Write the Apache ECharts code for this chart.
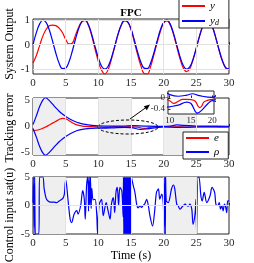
<!DOCTYPE html>
<html><head><meta charset="utf-8">
<script src="https://cdn.jsdelivr.net/npm/echarts@6/dist/echarts.min.js"></script>
<style>html,body{margin:0;padding:0;background:#fff}#c{width:254px;height:263px}</style>
</head><body><div id="c"></div><script>
// ---- data ----
const timeY = [0,0.5,1,1.5,2,2.5,3,3.5,4,4.5,5,5.5,6,6.5,7,7.5,8,8.5,9,9.5,10,10.5,11,11.5,12,12.5,13,13.5,14,14.5,15,15.5,16,16.5,17,17.5,18,18.5,19,19.5,20,20.5,21,21.5,22,22.5,23,23.5,24,24.5,25,25.5,26,26.5,27,27.5,28,28.5,29,29.5,30];
const yDesired = [0,0.48,0.84,1.00,0.91,0.60,0.14,-0.35,-0.76,-0.98,-0.96,-0.71,-0.28,0.22,0.66,0.94,0.99,0.80,0.41,-0.08,-0.54,-0.88,-1.00,-0.88,-0.54,-0.07,0.42,0.80,0.99,0.93,0.65,0.20,-0.29,-0.71,-0.96,-0.98,-0.75,-0.34,0.15,0.61,0.91,1.00,0.84,0.47,-0.01,-0.49,-0.85,-1.00,-0.91,-0.59,-0.13,0.36,0.76,0.98,0.96,0.70,0.27,-0.23,-0.66,-0.94,-0.99];
const yOutput = [-0.75,-0.45,-0.05,0.35,0.62,0.77,0.80,0.78,0.68,0.50,0.22,0.03,0.06,0.38,0.72,0.95,0.99,0.78,0.35,-0.18,-0.68,-1.05,-1.20,-1.02,-0.60,-0.10,0.40,0.78,0.97,0.92,0.62,0.12,-0.40,-0.85,-1.18,-1.20,-0.90,-0.42,0.08,0.55,0.88,0.97,0.82,0.42,-0.08,-0.58,-0.95,-1.10,-0.98,-0.62,-0.14,0.36,0.76,0.98,0.96,0.70,0.25,-0.25,-0.68,-0.96,-1.03];

const eTime = [0,0.5,1,1.5,2,2.5,3,3.5,4,4.5,5,5.5,6,6.5,7,7.5,8,9,10,11,12,13,14,15,16,17,17.5,18,19,20,21,22,23,23.6,24.5,26,27,28,29,30];
const eVal  = [-0.78,-0.72,-0.58,-0.35,-0.05,0.3,0.65,1.0,1.35,1.58,1.5,1.15,0.72,0.42,0.22,0.1,0.02,-0.03,-0.1,-0.2,-0.12,-0.05,-0.05,-0.06,-0.12,-0.35,-0.3,-0.15,-0.08,-0.05,-0.05,-0.05,-0.12,-0.15,-0.08,-0.05,-0.05,-0.05,-0.1,-0.05];
const rhoUpTime = [0,0.5,1,1.5,1.9,2.5,3,3.5,4,4.5,5,5.5,6,6.5,7,8,9,10,12,14,15.3,17,20,21,22,23,25,27,30];
const rhoUp     = [0.4,2.0,3.8,5.1,5.55,5.0,4.3,3.6,2.95,2.4,1.95,1.55,1.2,0.92,0.7,0.4,0.22,0.12,0.06,0.1,0.15,0.08,0.02,0.1,0.3,0.2,0.1,0.06,0.05];
const rhoLowTime = [0,0.5,1,1.5,1.9,2.5,3,3.5,4,4.5,5,5.5,6,6.5,7,8,9,10,12,14,15,16.5,17.5,19,20,22,25,30];
const rhoLow     = [-0.4,-2.0,-3.8,-5.1,-5.55,-5.0,-4.3,-3.6,-2.95,-2.4,-1.95,-1.55,-1.2,-0.92,-0.7,-0.45,-0.35,-0.32,-0.26,-0.15,-0.2,-0.55,-0.45,-0.2,-0.1,-0.15,-0.1,-0.06];

const uTime = [0,0.05,0.15,0.25,0.35,0.45,0.9,1.0,1.5,1.7,2.0,2.3,2.7,3.2,3.6,4.0,4.3,4.6,4.8,5.0,5.15,5.4,5.7,5.9,6.3,6.7,6.9,7.3,7.6,7.85,8.0,8.2,8.4,8.5,8.6,8.7,8.8,8.9,9.0,9.2,9.5,9.75,9.9,10.0,10.1,10.5,10.75,11.2,11.5,11.8,12.0,12.3,12.5,12.7,12.9,13.1,13.3,13.6,13.8,13.85,13.9,13.95,14.0,14.05,14.1,14.15,14.2,14.25,14.3,14.35,14.4,14.5,14.55,14.6,14.7,14.75,14.85,14.9,15.0,15.05,15.1,15.35,15.6,15.9,16.1,16.4,16.6,16.9,17.1,17.4,17.65,17.9,18.3,18.6,18.9,19.2,19.4,19.7,19.95,20.05,20.15,20.25,20.3,20.4,20.7,21.2,21.5,21.7,22.0,22.2,22.5,22.75,23.0,23.3,23.5,23.8,24.0,24.3,24.5,24.8,24.95,25.05,25.15,25.25,25.4,25.7,25.9,26.2,26.6,27.1,27.4,27.8,28.0,28.3,28.5,28.7,28.9,29.1,29.3,29.5,29.65,29.8,30];
const uVal  = [0.5,5,-5,5,-5,-5,-5,5,5,3,1.3,0.8,0.6,0.6,0.5,0.8,1.0,1.3,2.0,4.5,3.5,0.5,-2.5,-3.0,-1.5,-0.9,-1.5,0,2.6,1.1,-2.4,3.5,5,-1,5,0,5,-0.5,3,1,1.1,-1.5,-5,-5,0,1.1,-1.8,0.5,-0.95,-2.4,0.2,1.4,-1.25,2.3,3.2,0,3.2,2.5,-2,5,-5,5,-5,5,-5,5,-5,5,-5,5,-5,5,-5,5,-5,5,-5,5,-5,5,5,3.5,2.3,0,-0.4,0,-0.35,0.06,0.25,1.1,0,-1.8,-3.6,-1.2,2.3,2.9,1.1,2.0,0.2,-5,5,-5,5,0.8,0.5,2.9,3.6,2.9,0.2,0,-0.65,-0.35,0,0.25,0,-0.1,0.25,-0.65,-3.3,-1.5,1.1,-5,-5,5,5,1.7,0.8,2.3,0.5,1.7,3.2,2.3,0.2,0,0.5,-0.65,0,-0.95,0.25,-0.35,-1.25,0.8,0.8];

const xTicks = [0,5,10,15,20,25,30];
const yTicks1 = [-1,0,1];
const yTicks2 = [-5,0,5];
const yTicks3 = [-5,0,5];
const insetXTicks = [10,15,20];
const insetYTicks = [-0.4,0];
const shadeBands = [[0,5],[10,15],[20,25]];
const insetBands = [[10,15]];

// ---- chart ----
const serif = '"Liberation Serif","DejaVu Serif",serif';
const axisCol = '#262626';
const gridCol = '#e2e2e2';
const pairs = (xs, ys) => xs.map((x, i) => [x, ys[i]]);

function xAx(gi, min, max, labelSize, ticks) {
  return {
    gridIndex: gi, type: 'value', min: min, max: max,
    axisLabel: {customValues: ticks, fontFamily: serif, fontSize: labelSize, color: axisCol, margin: gi === 3 ? 2 : 4},
    axisTick: {customValues: ticks, inside: true, length: 2.5, lineStyle: {color: axisCol}},
    axisLine: {show: false},
    splitLine: {show: false}
  };
}
function yAx(gi, min, max, ticks, labelSize) {
  return {
    gridIndex: gi, type: 'value', min: min, max: max,
    axisLabel: {customValues: ticks, fontFamily: serif, fontSize: labelSize, color: axisCol, margin: 3},
    axisTick: {customValues: ticks, inside: true, length: 2.5, lineStyle: {color: axisCol}},
    axisLine: {show: false},
    splitLine: {show: false}
  };
}
function guide(gi, hTicks, vTicks, bands, z) {
  const lines = hTicks.map(v => ({yAxis: v})).concat(vTicks.map(v => ({xAxis: v})));
  return {
    type: 'line', xAxisIndex: gi, yAxisIndex: gi, data: [], z: z, silent: true,
    markLine: {silent: true, symbol: ['none', 'none'], label: {show: false},
      lineStyle: {color: gridCol, type: 'solid', width: 1}, data: lines, animation: false},
    markArea: {silent: true, itemStyle: {color: '#efefef'},
      data: bands.map(b => [{xAxis: b[0]}, {xAxis: b[1]}])}
  };
}
function ln(name, gi, data, color, smooth, z) {
  return {type: 'line', name: name, xAxisIndex: gi, yAxisIndex: gi, data: data,
    showSymbol: false, symbol: 'none', smooth: smooth, clip: true, z: z || 3,
    lineStyle: {color: color, width: 1.2}, itemStyle: {color: color}};
}

const inner = [5,10,15,20,25];
const option = {
  animation: false,
  grid: [
    {left: 33, top: 19, width: 196, height: 55, show: true, borderColor: axisCol, borderWidth: 1},
    {left: 33, top: 98, width: 196, height: 57, show: true, borderColor: axisCol, borderWidth: 1},
    {left: 33, top: 177, width: 196, height: 57, show: true, borderColor: axisCol, borderWidth: 1},
    {left: 168, top: 91, width: 46, height: 23, show: true, borderColor: axisCol, borderWidth: 1, backgroundColor: '#fff', z: 8}
  ],
  xAxis: [
    xAx(0, 0, 30, 11, xTicks), xAx(1, 0, 30, 11, xTicks), xAx(2, 0, 30, 11, xTicks),
    Object.assign(xAx(3, 9.6, 20.4, 9, insetXTicks), {z: 9})
  ],
  yAxis: [
    yAx(0, -1.2, 1.05, yTicks1, 11), yAx(1, -5.5, 5.5, yTicks2, 11), yAx(2, -5, 5, yTicks3, 11),
    Object.assign(yAx(3, -0.58, 0.25, insetYTicks, 9), {z: 9})
  ],
  legend: [
    {data: ['y', 'yd'], orient: 'vertical', left: 179, top: -1, itemWidth: 23, itemHeight: 2, icon: 'rect',
     itemGap: 3, padding: [1, 10, 1, 3], borderColor: axisCol, borderWidth: 1, backgroundColor: '#fff', z: 12,
     formatter: n => n === 'yd' ? '{i|y}{s|d}' : '{i|y}',
     textStyle: {fontFamily: serif, fontSize: 11, lineHeight: 12, color: '#000',
       rich: {i: {fontFamily: serif, fontStyle: 'italic', fontSize: 11}, s: {fontFamily: serif, fontStyle: 'italic', fontSize: 8, verticalAlign: 'bottom', padding: [5, 0, 0, 0]}}}},
    {data: ['e', 'ρ'], orient: 'vertical', left: 183, top: 132, itemWidth: 23, itemHeight: 2, icon: 'rect',
     itemGap: 2, padding: [0, 9, 1, 3], borderColor: axisCol, borderWidth: 1, backgroundColor: '#fff', z: 12,
     textStyle: {fontFamily: serif, fontStyle: 'italic', fontSize: 11, lineHeight: 12, color: '#000'}}
  ],
  series: [
    guide(0, yTicks1, inner, [], 1),
    guide(1, [], inner, shadeBands, 1),
    guide(2, [0], inner, shadeBands, 1),
    Object.assign(guide(3, [], [], insetBands, 9), {}),
    ln('y', 0, pairs(timeY, yOutput), '#ff0000', 0.4),
    ln('yd', 0, pairs(timeY, yDesired), '#0000ff', 0.4),
    ln('e', 1, pairs(eTime, eVal), '#ff0000', 0.4),
    ln('ρ', 1, pairs(rhoUpTime, rhoUp), '#0000ff', 0.4),
    ln('ρ', 1, pairs(rhoLowTime, rhoLow), '#0000ff', 0.4),
    ln('u', 2, pairs(uTime, uVal), '#0000ff', 0.3),
    ln('ei', 3, pairs(eTime, eVal), '#ff0000', 0.4, 10),
    ln('ρi', 3, pairs(rhoUpTime, rhoUp), '#0000ff', 0.4, 10),
    ln('ρi2', 3, pairs(rhoLowTime, rhoLow), '#0000ff', 0.4, 10)
  ],
  graphic: [
    {type: 'text', x: 131, y: 13, z: 20, style: {text: 'FPC', font: 'bold 11px "Liberation Serif"', align: 'center', verticalAlign: 'middle', fill: '#000'}},
    {type: 'text', x: 10, y: 44, rotation: Math.PI / 2, z: 20, style: {text: 'System Output', font: '12px "Liberation Serif"', align: 'center', verticalAlign: 'middle', fill: '#000'}},
    {type: 'text', x: 10, y: 128, rotation: Math.PI / 2, z: 20, style: {text: 'Tracking error', font: '12px "Liberation Serif"', align: 'center', verticalAlign: 'middle', fill: '#000'}},
    {type: 'text', x: 10, y: 215, rotation: Math.PI / 2, z: 20, style: {text: 'Control input sat(u)', font: '12px "Liberation Serif"', align: 'center', verticalAlign: 'middle', fill: '#000'}},
    {type: 'text', x: 131, y: 256, z: 20, style: {text: 'Time (s)', font: '12px "Liberation Serif"', align: 'center', verticalAlign: 'middle', fill: '#000'}},
    {type: 'ellipse', z: 20, shape: {cx: 128, cy: 127, rx: 30, ry: 7}, style: {fill: 'none', stroke: '#000', lineWidth: 1, lineDash: [3, 2]}},
    {type: 'line', z: 20, shape: {x1: 130, y1: 119, x2: 146, y2: 107.5}, style: {stroke: '#000', lineWidth: 1}},
    {type: 'polygon', z: 20, shape: {points: [[150, 104.5], [146.8, 110.2], [143.8, 106.2]]}, style: {fill: '#000'}}
  ]
};
const chart = echarts.init(document.getElementById('c'), null, {renderer: 'canvas'});
chart.setOption(option);
</script></body></html>
